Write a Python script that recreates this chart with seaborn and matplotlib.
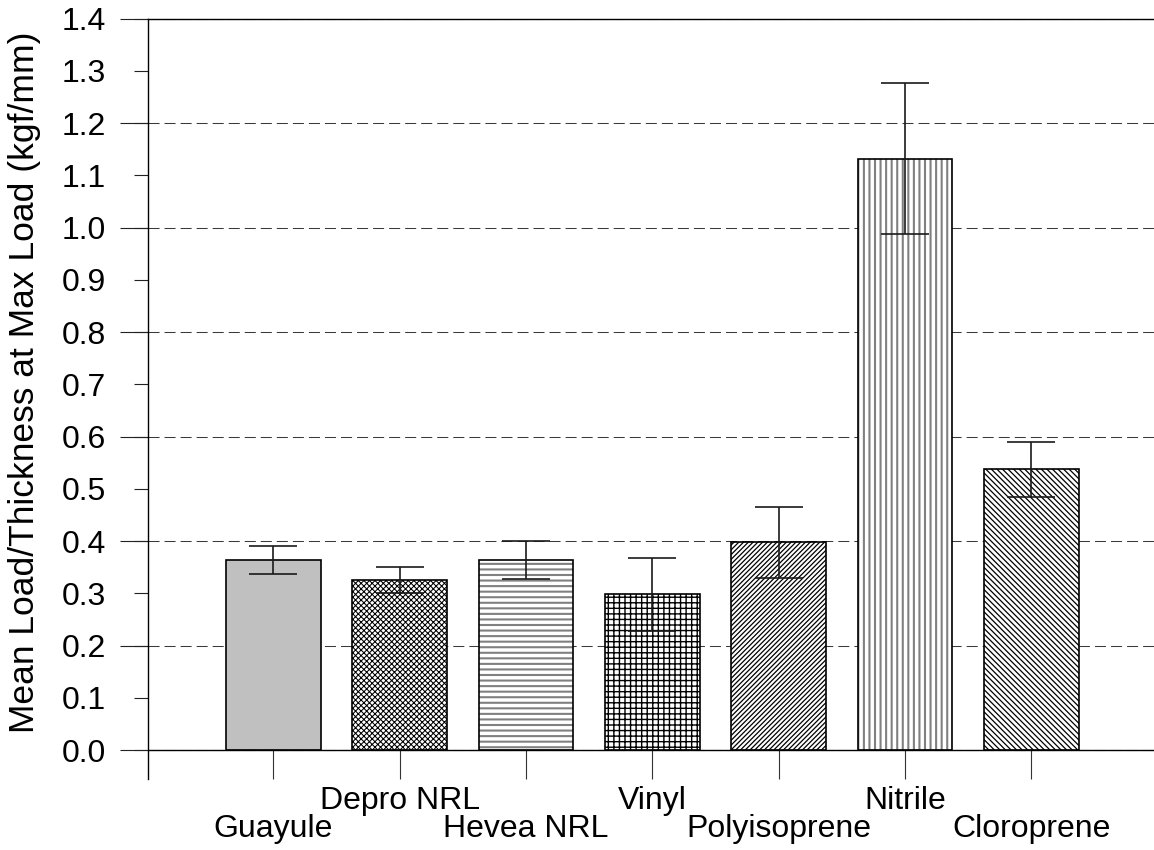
import numpy as np
import pandas as pd
import matplotlib
matplotlib.use("Agg")
import matplotlib.pyplot as plt
from matplotlib.patches import Rectangle
from matplotlib.ticker import MultipleLocator
from matplotlib.transforms import ScaledTranslation
import seaborn as sns

# Mean load/thickness at max load for each glove material, with error (+/-)
materials = ["Guayule", "Depro NRL", "Hevea NRL", "Vinyl",
             "Polyisoprene", "Nitrile", "Cloroprene"]
mean_load = [0.363, 0.325, 0.364, 0.298, 0.398, 1.132, 0.537]
load_err = [0.027, 0.025, 0.036, 0.070, 0.068, 0.145, 0.053]

fills = ["#c0c0c0", "white", "white", "white", "white", "white", "white"]
hatches = ["", "xxxxxx", "---", "+++", "///////", "|||", "\\" * 6]
hatch_colors = ["black", "black", "#808080", "black", "black", "#808080", "black"]
hatch_widths = [1.0, 0.75, 1.5, 1.0, 0.9, 1.5, 0.9]

sns.set_theme(style="white")
plt.rcParams["font.family"] = ["Liberation Sans", "DejaVu Sans"]
plt.rcParams["hatch.linewidth"] = 1.0
for key in ("text.color", "axes.labelcolor", "xtick.color", "ytick.color"):
    plt.rcParams[key] = "black"

df = pd.DataFrame({"material": materials, "load": mean_load})

fig = plt.figure(figsize=(11.54, 8.5), dpi=100)
ax = fig.add_axes([0.12825, 0.08353, 1 - 0.12825, 0.89447])

sns.barplot(data=df, x="material", y="load", hue="material",
            palette=dict(zip(materials, fills)), legend=False,
            width=0.75, errorbar=None, ax=ax, zorder=2)

# hatch the bars, then redraw a black outline on top of each one
for patch, h, hc, hw in zip(ax.patches[:len(materials)], hatches,
                            hatch_colors, hatch_widths):
    patch.set_hatch(h)
    patch.set_edgecolor(hc)
    patch.set_linewidth(0)
    if hasattr(patch, "set_hatch_linewidth"):
        patch.set_hatch_linewidth(hw)
    bb = patch.get_bbox()
    ax.add_patch(Rectangle((bb.x0, bb.y0), bb.width, bb.height,
                           fill=False, edgecolor="black", linewidth=1.2,
                           zorder=3))

pos = np.arange(len(materials))
ax.errorbar(pos, mean_load, yerr=load_err, fmt="none", ecolor="#1a1a1a",
            elinewidth=1.2, capsize=17.3, capthick=1.2, zorder=4)

ax.set_xlim(-0.993, 6.97)
ax.set_ylim(-0.0555, 1.4)

# zero line
ax.axhline(0, color="black", linewidth=1.0, zorder=3)

# spines
for side in ("right", "bottom"):
    ax.spines[side].set_visible(False)
for side in ("left", "top"):
    ax.spines[side].set_color("black")
    ax.spines[side].set_linewidth(1.0)

# y ticks: labels every 0.1 with short ticks, long ticks every 0.2
ax.yaxis.set_major_locator(MultipleLocator(0.1))
ax.yaxis.set_minor_locator(MultipleLocator(0.2))
ax.yaxis.remove_overlapping_locs = False
ax.set_yticks(np.round(np.arange(0, 1.41, 0.1), 1))
ax.set_yticklabels([f"{v:.1f}" for v in np.arange(0, 1.41, 0.1)])
ax.tick_params(axis="y", which="major", direction="out", length=10.2,
               width=0.8, color="#222222", labelsize=23, pad=20,
               left=True)
ax.tick_params(axis="y", which="minor", direction="out", length=20.2,
               width=0.8, color="#222222", left=True)

# dashed grid on the long ticks
ax.yaxis.grid(True, which="minor", color="#3a3a3a", linewidth=0.75,
              linestyle=(0, (10.6, 4.8)))
ax.yaxis.grid(False, which="major")
ax.xaxis.grid(False)
ax.set_axisbelow(True)

# x ticks rise from the bottom of the axes to the zero line
ax.set_xticks(pos)
ax.set_xticklabels(materials)
ax.tick_params(axis="x", which="major", direction="in", length=20.9,
               width=0.8, color="#333333", labelsize=23, pad=5,
               bottom=True)
ax.set_xlabel("")

# stagger the category labels on two rows
for i, lbl in enumerate(ax.get_xticklabels()):
    if i % 2 == 0:
        lbl.set_transform(lbl.get_transform() +
                          ScaledTranslation(0, -0.28, fig.dpi_scale_trans))

ax.set_ylabel("Mean Load/Thickness at Max Load (kgf/mm)", fontsize=25.5)
ax.yaxis.set_label_coords(-0.106, 0.522)

fig.savefig("out.png", dpi=100, facecolor="white")
